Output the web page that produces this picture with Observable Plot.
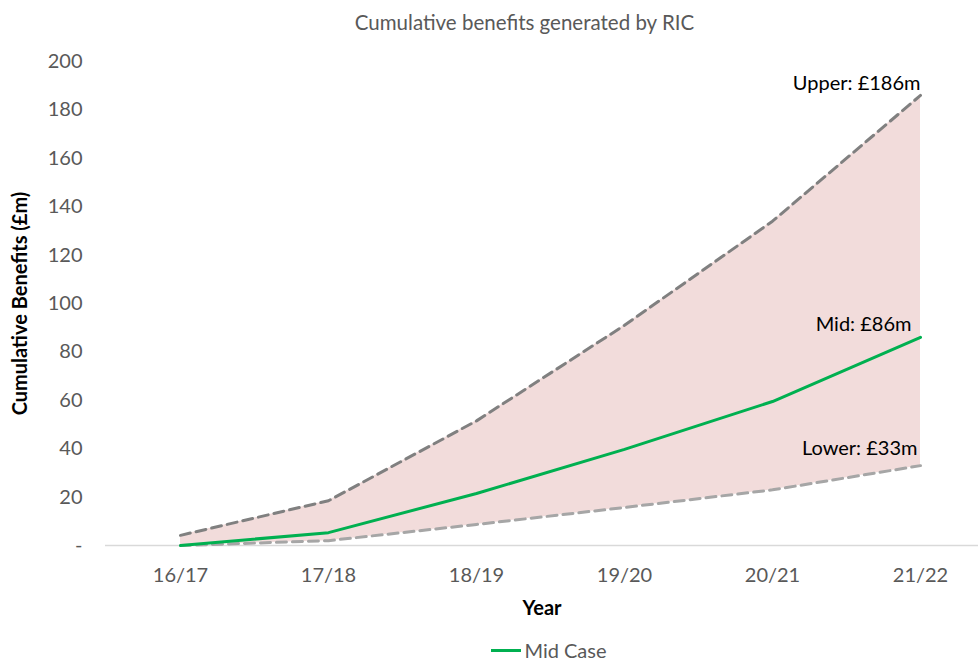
<!DOCTYPE html>
<html>
<head>
<meta charset="utf-8">
<script src="https://cdn.jsdelivr.net/npm/d3@7"></script>
<script src="https://cdn.jsdelivr.net/npm/@observablehq/plot@0.6"></script>
<style>
  body { margin: 0; background: #fff; font-family: Lato, "Open Sans", sans-serif; overflow: hidden; }
  #wrap { width: 979px; }
  #title { height: 40px; line-height: 44px; text-align: center; color: #595959; font-size: 20.5px; padding-left: 70px; box-sizing: border-box; }
  #legend { height: 42px; display: flex; justify-content: center; align-items: center; color: #595959; font-size: 20px; line-height: 22px; padding-left: 119px; padding-top: 18px; box-sizing: border-box; }
  #legend .sw { width: 30px; height: 3px; background: #00b050; margin-right: 3px; }
</style>
</head>
<body>
<div id="wrap">
  <div id="title">Cumulative benefits generated by RIC</div>
  <div id="chart"></div>
  <div id="legend"><span class="sw"></span><span>Mid Case</span></div>
</div>
<script>
const years = ["16/17", "17/18", "18/19", "19/20", "20/21", "21/22"];
const upper = [4.2, 18.5, 51.5, 91, 134, 186];
const mid = [0, 5.3, 21.5, 39.7, 59.5, 86];
const lower = [0, 2, 8.7, 15.7, 23, 33];
const yTicks = [0, 20, 40, 60, 80, 100, 120, 140, 160, 180, 200];
const endLabels = ["Upper: £186m", "Mid: £86m", "Lower: £33m"];

const data = years.map((y, i) => ({year: y, upper: upper[i], mid: mid[i], lower: lower[i]}));
const last = data[data.length - 1];

const chart = Plot.plot({
  width: 979,
  height: 580,
  marginTop: 21,
  marginBottom: 75,
  marginLeft: 105,
  marginRight: 1,
  style: {fontFamily: "Lato, 'Open Sans', sans-serif", fontSize: "20px", background: "#fff"},
  x: {type: "point", domain: years, padding: 0, insetLeft: 74, insetRight: 58},
  y: {domain: [0, 200]},
  marks: [
    Plot.areaY(data, {x: "year", y1: "lower", y2: "upper", fill: "#f2dcdb", curve: "linear"}),
    Plot.ruleY([0], {stroke: "#d9d9d9", strokeWidth: 1.5}),
    Plot.lineY(data, {x: "year", y: "upper", stroke: "#808080", strokeWidth: 3, strokeDasharray: "10,6"}),
    Plot.lineY(data, {x: "year", y: "lower", stroke: "#a6a6a6", strokeWidth: 3, strokeDasharray: "10,6"}),
    Plot.lineY(data, {x: "year", y: "mid", stroke: "#00b050", strokeWidth: 3}),
    Plot.text([last], {x: "year", y: "upper", text: () => endLabels[0], textAnchor: "end", dy: -12, fill: "#000", fontSize: 20}),
    Plot.text([last], {x: "year", y: "mid", text: () => endLabels[1], textAnchor: "end", dx: -9, dy: -13, fill: "#000", fontSize: 20}),
    Plot.text([last], {x: "year", y: "lower", text: () => endLabels[2], textAnchor: "end", dx: -3, dy: -17, fill: "#000", fontSize: 20}),
    Plot.axisY({ticks: yTicks, tickSize: 0, tickPadding: 23, tickFormat: d => d === 0 ? "-" : d, fill: "#595959", fontSize: 20,
      label: "Cumulative Benefits (£m)", labelAnchor: "center", labelArrow: "none", labelOffset: 93}),
    Plot.axisX({tickSize: 0, tickPadding: 22, fill: "#595959", fontSize: 20,
      label: "Year", labelAnchor: "center", labelArrow: "none", labelOffset: 69})
  ]
});

chart.querySelectorAll('[aria-label="y-axis label"] text, [aria-label="x-axis label"] text').forEach(t => {
  t.setAttribute("font-weight", "bold");
  t.setAttribute("fill", "#000");
  t.style.fill = "#000";
});
chart.querySelectorAll('[aria-label="y-axis label"], [aria-label="x-axis label"]').forEach(g => {
  g.setAttribute("font-size", "20");
});
document.getElementById("chart").appendChild(chart);
</script>
</body>
</html>
